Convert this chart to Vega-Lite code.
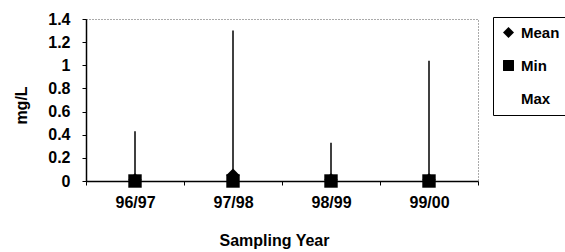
{
  "$schema": "https://vega.github.io/schema/vega-lite/v6.json",
  "autosize": {"type": "none"},
  "width": 392,
  "height": 162,
  "padding": {"left": 86, "top": 19, "right": 87, "bottom": 71},
  "background": "white",
  "config": {
    "view": {"stroke": "#555", "strokeDash": [1, 2], "strokeWidth": 1},
    "font": "Liberation Sans",
    "axis": {
      "domainColor": "black", "domainWidth": 1.5, "tickColor": "black", "tickWidth": 1,
      "labelFont": "Liberation Sans", "labelFontWeight": "bold", "labelFontSize": 16, "labelColor": "black",
      "labelOverlap": false,
      "titleFont": "Liberation Sans", "titleFontWeight": "bold", "titleFontSize": 16, "titleColor": "black",
      "grid": false
    }
  },
  "data": {
    "values": [
      {"year": "96/97", "Mean": 0.01, "Min": 0.0, "Max": 0.43},
      {"year": "97/98", "Mean": 0.05, "Min": 0.0, "Max": 1.30},
      {"year": "98/99", "Mean": 0.01, "Min": 0.0, "Max": 0.33},
      {"year": "99/00", "Mean": 0.01, "Min": 0.0, "Max": 1.04}
    ]
  },
  "layer": [
    {
      "mark": {"type": "rule", "color": "black", "strokeWidth": 1.5},
      "encoding": {
        "x": {"field": "year", "type": "nominal", "sort": null,
              "scale": {"paddingInner": 0, "paddingOuter": 0},
              "axis": {"labelAngle": 0, "tickBand": "extent", "tickSize": 4, "labelPadding": 9,
                       "title": "Sampling Year", "titleX": 188, "titleY": 51, "titleBaseline": "top"}},
        "y": {"field": "Min", "type": "quantitative",
              "scale": {"domain": [0, 1.4], "nice": false},
              "axis": {"values": [0, 0.2, 0.4, 0.6, 0.8, 1, 1.2, 1.4], "tickCount": 8, "format": "~g", "tickSize": 4, "labelPadding": 12, "labelOverlap": false,
                       "title": "mg/L", "titleX": -57, "titleY": 86}},
        "y2": {"field": "Max"}
      }
    },
    {
      "transform": [{"fold": ["Mean", "Min", "Max"], "as": ["stat", "value"]}],
      "mark": {"type": "point", "filled": true, "opacity": 1, "size": 180},
      "encoding": {
        "x": {"field": "year", "type": "nominal", "sort": null},
        "y": {"field": "value", "type": "quantitative",
              "axis": {"values": [0, 0.2, 0.4, 0.6, 0.8, 1, 1.2, 1.4], "tickCount": 8, "format": "~g", "tickSize": 4, "labelPadding": 12, "labelOverlap": false,
                       "title": "mg/L", "titleX": -57, "titleY": 86}},
        "shape": {"field": "stat", "type": "nominal",
                  "scale": {"domain": ["Mean", "Min", "Max"], "range": ["diamond", "square", "circle"]},
                  "legend": {"title": null, "orient": "none", "legendX": 407, "legendY": -2,
                             "strokeColor": "black", "padding": 8, "rowPadding": 17,
                             "labelFont": "Liberation Sans", "labelFontWeight": "bold", "labelFontSize": 15, "labelColor": "black",
                             "symbolSize": 120, "symbolStrokeWidth": 0, "labelOffset": 5}},
        "color": {"field": "stat", "type": "nominal",
                  "scale": {"domain": ["Mean", "Min", "Max"], "range": ["black", "black", "transparent"]}}
      }
    }
  ]
}
